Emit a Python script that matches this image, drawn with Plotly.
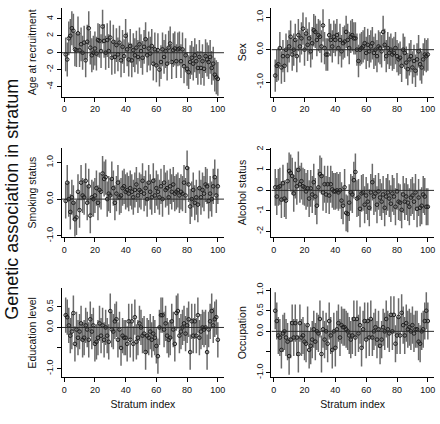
import plotly.graph_objects as go

stratum = list(range(1, 101))

age = [-0.2, -0.8, 1.7, 2.0, 2.9, 2.6, 0.4, 0.3, 2.3, 0.3,
       1.0, 0.0, 1.2, -0.9, 1.3, 2.9, 0.6, -0.3, 0.0, 0.5,
       -0.1, 1.5, 1.4, 0.2, 3.1, 1.4, 0.0, 1.5, 0.2, 1.8,
       -0.6, 1.3, -0.5, 0.9, -0.2, 1.2, -0.9, 0.7, -0.4, 2.0,
       0.4, -0.8, 0.8, -0.9, 0.3, -0.3, 0.6, -0.5, 1.0, 0.2,
       -0.6, 0.7, 1.6, -0.3, 0.5, -0.1, 0.8, -1.3, 0.4, -1.5,
       0.3, -2.0, -1.1, 0.4, -0.5, 0.2, -1.3, 0.6, 1.1, -1.1,
       0.3, 0.5, -1.0, 0.4, 0.5, -1.0, 0.4, -1.6, -0.3, -1.9,
       -2.3, -1.1, -0.6, -1.3, -0.3, -1.0, -1.8, -0.5, -1.8, -1.0,
       -1.9, -0.4, -0.8, -1.1, -0.5, -1.8, -1.3, -2.6, -2.9, -3.1]

sex = [-0.8, -0.5, -0.45, 0.05, -0.55, -0.2, -0.5, 0.0, -0.2, 0.1,
       0.4, -0.15, 0.0, 0.3, -0.2, 0.45, 0.1, 0.35, 0.65, 0.0,
       0.5, 0.15, 0.35, -0.05, 0.2, 0.6, 0.55, 0.3, 0.45, 0.4,
       0.1, 0.75, 0.05, -0.15, -0.15, 0.45, 0.3, 0.1, 0.4, 0.3,
       0.45, 0.05, 0.3, -0.05, 0.2, 0.25, 0.55, 0.3, 0.05, 0.4,
       0.45, 0.35, 0.35, 0.0, -0.35, 0.0, 0.05, 0.1, 0.2, -0.1,
       0.15, -0.05, 0.1, 0.2, -0.1, 0.0, -0.2, 0.1, 0.05, -0.05,
       0.55, 0.15, -0.2, 0.05, -0.1, 0.0, -0.15, -0.1, 0.05, -0.2,
       -0.3, -0.25, -0.5, 0.0, -0.1, -0.4, -0.6, -0.3, -0.2, -0.55,
       -0.35, -0.65, -0.3, -0.05, -0.45, -0.55, -0.3, -0.15, -0.2, -0.15]

smoking = [-0.05, 0.45, 0.0, -0.35, 0.05, -0.1, -0.55, -0.5, 0.2, -0.3,
           0.45, 0.1, 0.05, 0.5, -0.1, 0.35, -0.45, 0.05, 0.0, 0.1,
           0.3, -0.1, 0.25, 0.2, 0.7, 0.55, 0.6, 0.0, 0.15, 0.1,
           0.55, 0.3, -0.1, 0.15, 0.45, 0.05, 0.1, 0.3, 0.35, 0.2,
           0.25, 0.15, 0.3, 0.2, 0.05, 0.25, 0.4, 0.1, 0.25, 0.2,
           0.5, 0.15, 0.3, 0.0, 0.45, 0.2, 0.05, 0.5, 0.1, 0.3,
           0.2, 0.05, 0.35, 0.0, 0.45, 0.25, 0.3, 0.05, 0.35, 0.2,
           0.4, 0.15, 0.2, 0.25, 0.1, 0.2, 0.15, 0.45, 0.1, 0.85,
           0.4, -0.2, 0.0, 0.25, -0.1, 0.05, -0.15, 0.3, 0.05, 0.25,
           0.15, 0.4, 0.35, -0.05, 0.15, 0.0, 0.35, 0.6, 0.1, 0.35]

alcohol = [0.15, -0.3, 0.15, 0.2, -0.45, 0.35, -0.4, -0.5, 0.45, 0.95,
           0.85, 0.7, -0.15, 0.5, 0.2, 1.0, 0.3, 0.45, 0.2, 0.15,
           -0.05, 0.1, -0.4, 0.1, -0.2, 0.4, -0.3, -0.75, 0.15, 0.8,
           0.7, -0.1, 0.3, -0.2, 0.3, -0.25, 0.3, 0.05, -0.05, -0.05,
           0.0, -0.1, 0.0, -0.5, -0.75, 0.15, -1.1, -1.15, -0.6, -0.1,
           -0.2, 0.5, 0.9, -0.4, -0.35, -0.9, -0.15, -0.1, -0.7, -0.25,
           -0.55, -0.85, -0.1, 0.4, -0.3, -0.15, -0.7, -0.05, -0.35, -0.55,
           -0.2, -0.85, -0.3, -0.1, -0.4, -0.65, -0.15, -0.3, -0.8, -0.05,
           -0.55, -0.6, -0.95, -0.2, -0.55, -0.3, -0.6, -0.8, -0.35, -0.25,
           -0.55, -0.1, -0.9, -0.35, -0.85, -0.75, -0.2, -0.3, -0.8, -0.8]

education = [0.3, 0.25, 0.05, -0.2, -0.1, 0.35, -0.4, -0.05, -0.25, -0.1,
             0.1, -0.3, -0.25, 0.05, -0.05, -0.3, 0.2, -0.1, 0.05, -0.4,
             -0.35, -0.25, 0.1, -0.2, 0.05, -0.3, 0.0, -0.2, -0.35, 0.4,
             -0.05, -0.1, 0.15, 0.2, -0.3, -0.05, -0.5, -0.2, -0.25, -0.25,
             -0.4, 0.15, -0.3, 0.15, -0.4, 0.25, -0.35, -0.25, 0.1, 0.0,
             -0.2, -0.15, -0.6, -0.2, -0.25, -0.1, -0.3, -0.15, -0.25, -0.45,
             -0.7, 0.0, 0.3, 0.3, -0.05, 0.1, -0.2, -0.3, -0.25, 0.15,
             -0.05, -0.4, 0.35, 0.4, -0.2, -0.1, 0.0, 0.1, -0.15, 0.05,
             0.2, -0.6, 0.15, -0.2, 0.15, -0.2, 0.3, -0.25, -0.1, 0.0,
             -0.05, 0.0, -0.6, -0.05, 0.15, 0.4, 0.05, 0.2, 0.25, -0.3]

occupation = [0.5, 0.25, -0.1, -0.15, -0.45, -0.05, 0.0, -0.15, -0.25, -0.6,
              -0.2, 0.2, -0.15, 0.2, -0.15, -0.55, 0.2, -0.15, -0.1, -0.25,
              -0.3, 0.15, -0.45, -0.35, -0.2, 0.05, -0.25, 0.0, -0.05, 0.3,
              -0.55, 0.05, -0.2, 0.0, -0.3, 0.25, -0.1, -0.45, 0.0, -0.4,
              0.05, 0.2, -0.15, 0.15, 0.1, 0.1, 0.05, 0.0, -0.1, -0.2,
              -0.1, 0.3, -0.15, 0.3, -0.05, 0.15, -0.4, 0.05, 0.25, -0.2,
              0.25, -0.15, 0.3, -0.15, 0.0, 0.1, -0.2, 0.05, -0.35, -0.2,
              0.1, 0.0, 0.3, 0.05, -0.05, 0.4, 0.0, 0.4, -0.3, -0.1,
              0.35, -0.1, 0.45, 0.15, -0.1, 0.2, 0.05, 0.1, 0.0, 0.15,
              -0.05, 0.05, 0.05, -0.25, -0.3, 0.0, 0.05, 0.25, 0.5, 0.25]

panel_titles = ["Age at recruitment", "Sex", "Smoking status",
                "Alcohol status", "Education level", "Occupation"]
ci_halfwidth = [2.0, 0.5, 0.48, 0.9, 0.43, 0.45]

x_ticks = [0, 20, 40, 60, 80, 100]
y_tickvals = [[-4, -2, 0, 2, 4], [-1.0, 0.0, 1.0], [-1.0, 0.0, 1.0],
              [-2, -1, 0, 1, 2], [-1.0, -0.5, 0.0, 0.5], [-1.0, -0.5, 0.0, 0.5, 1.0]]
y_ticktext = [["-4", "-2", "0", "2", "4"], ["-1.0", "0.0", "1.0"], ["-1.0", "0.0", "1.0"],
              ["-2", "-1", "0", "1", "2"], ["-1.0", "", "0.0", "0.5"],
              ["-1.0", "", "0.0", "0.5", "1.0"]]
y_ranges = [[-5.19, 5.3], [-1.45, 1.29], [-1.03, 1.39],
            [-2.27, 2.06], [-1.21, 0.95], [-1.11, 1.04]]

series = [age, sex, smoking, alcohol, education, occupation]

W, H = 440, 424
FONT = "Liberation Sans, Arial, sans-serif"
x_range = [-1.5, 104]
col_px = [(62.0, 224.5), (272.0, 435.0)]
row_px = [(2, 93), (146, 237), (290, 381)]

fig = go.Figure()
layout = {}
for i, vals in enumerate(series):
    r, c = divmod(i, 2)
    n = "" if i == 0 else str(i + 1)
    xa, ya = "x" + n, "y" + n
    fig.add_trace(go.Scatter(
        x=stratum, y=vals, mode="markers", xaxis=xa, yaxis=ya, showlegend=False,
        error_y=dict(type="data", array=[ci_halfwidth[i]] * len(vals),
                     color="#6a6a6a", thickness=1.5, width=0),
        marker=dict(symbol="circle-open", size=3.6, color="#1e1e1e",
                    line=dict(color="#1e1e1e", width=1)),
    ))
    fig.add_shape(type="line", xref=xa, yref=ya, x0=x_range[0], x1=x_range[1],
                  y0=0, y1=0, line=dict(color="#2a2a2a", width=1), layer="above")
    xd = [col_px[c][0] / W, col_px[c][1] / W]
    yd = [(H - row_px[r][1]) / H, (H - row_px[r][0]) / H]
    layout["xaxis" + n] = dict(
        domain=xd, range=x_range, anchor=ya, tickvals=x_ticks,
        ticks="outside", ticklen=4, tickcolor="#000", showline=True,
        linecolor="#000", linewidth=1, showgrid=False, zeroline=False,
        tickfont=dict(family=FONT, size=9, color="#111"),
        title=dict(text="Stratum index" if r == 2 else "",
                   font=dict(family=FONT, size=10.5, color="#111"), standoff=6),
    )
    layout["yaxis" + n] = dict(
        domain=yd, range=y_ranges[i], anchor=xa, tickvals=y_tickvals[i],
        ticktext=y_ticktext[i], tickangle=-90,
        ticks="outside", ticklen=4, tickcolor="#000", showline=True,
        linecolor="#000", linewidth=1, showgrid=False, zeroline=False,
        tickfont=dict(family=FONT, size=9, color="#111"),
        title=dict(text=panel_titles[i],
                   font=dict(family=FONT, size=10.5, color="#111"), standoff=6),
    )

fig.update_layout(
    width=W, height=H, margin=dict(l=0, r=0, t=0, b=0),
    paper_bgcolor="white", plot_bgcolor="white", **layout,
)
fig.add_annotation(text="Genetic association in stratum", textangle=-90,
                   x=12 / W, y=(H - 198) / H, xref="paper", yref="paper",
                   xanchor="center", yanchor="middle",
                   showarrow=False, font=dict(family=FONT, size=18, color="#111"))

fig.write_html("out.html", config={"displayModeBar": False},
               post_script="document.body.style.margin='0';document.body.style.overflow='hidden';")
